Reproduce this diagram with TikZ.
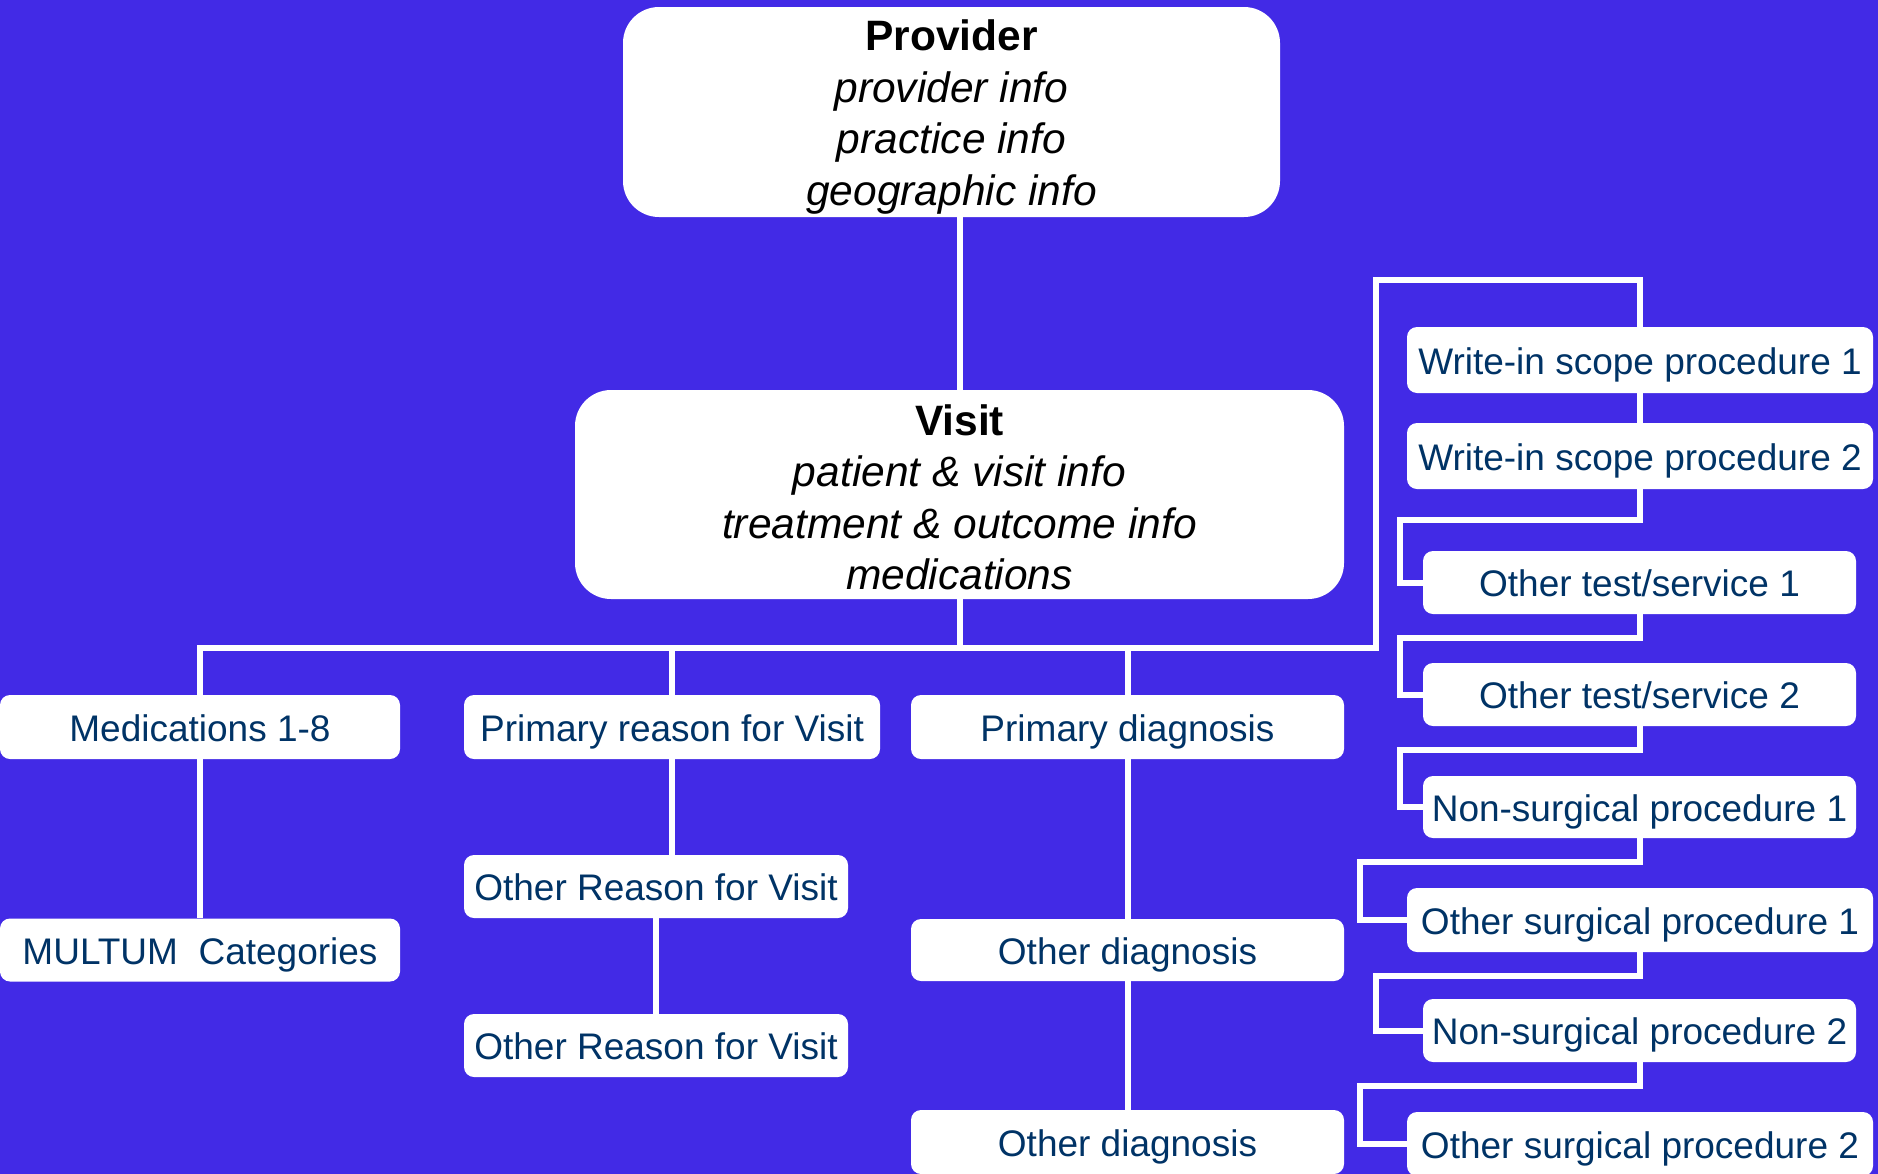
\documentclass[tikz,border=0pt]{standalone}
\usepackage{fontspec}
\setmainfont{Liberation Sans}
\definecolor{bg}{RGB}{66,42,230}
\definecolor{navy}{RGB}{0,51,102}
\begin{document}
\begin{tikzpicture}[x=1pt,y=-1pt,
  conn/.style={draw=white,line width=6pt},
  bigbox/.style={fill=white,rounded corners=36pt,inner sep=0pt,align=center,text=black,
    font=\fontsize{42.5}{51.5}\selectfont},
  leaf/.style={fill=white,rounded corners=10pt,inner sep=0pt,text=navy,
    text height=28pt,text depth=0pt,
    font=\fontsize{37}{40}\selectfont}]
\useasboundingbox (0,0) rectangle (1878,1173);
\clip (0,0) rectangle (1878,1173);
\fill[bg] (-2,-2) rectangle (1880,1175);

% big boxes
\node[bigbox,minimum width=657pt,minimum height=210pt] (prov) at (951.5,112)
  {\rule{0pt}{41pt}\textbf{Provider}\\ \textit{provider info}\\ \textit{practice info}\\ \textit{geographic info}};
\node[bigbox,minimum width=769pt,minimum height=209pt] (visit) at (959.5,494.5)
  {\rule{0pt}{36pt}\textbf{Visit}\\ \textit{patient \& visit info}\\ \textit{treatment \& outcome info}\\ \textit{medications}};

% left columns
\node[leaf,minimum width=400pt,minimum height=64pt] (med) at (200,727) {Medications 1-8};
\node[leaf,minimum width=400pt,minimum height=63pt] (multum) at (200,950) {MULTUM\ \ Categories};
\node[leaf,minimum width=416pt,minimum height=64pt] (prim) at (672,727) {Primary reason for Visit};
\node[leaf,minimum width=384pt,minimum height=63pt] (or1) at (656,886.5) {Other Reason for Visit};
\node[leaf,minimum width=384pt,minimum height=63pt] (or2) at (656,1045.5) {Other Reason for Visit};
\node[leaf,minimum width=433pt,minimum height=64pt] (pd) at (1127.5,727) {Primary diagnosis};
\node[leaf,minimum width=433pt,minimum height=62pt] (od1) at (1127.5,950) {Other diagnosis};
\node[leaf,minimum width=433pt,minimum height=64pt] (od2) at (1127.5,1142) {Other diagnosis};

% right column
\node[leaf,minimum width=466pt,minimum height=66pt] (w1) at (1640,360) {Write-in scope procedure 1};
\node[leaf,minimum width=466pt,minimum height=66pt] (w2) at (1640,456) {Write-in scope procedure 2};
\node[leaf,minimum width=433pt,minimum height=63pt] (t1) at (1639.5,582.5) {Other test/service 1};
\node[leaf,minimum width=433pt,minimum height=63pt] (t2) at (1639.5,694.5) {Other test/service 2};
\node[leaf,minimum width=433pt,minimum height=62pt] (ns1) at (1639.5,807) {Non-surgical procedure 1};
\node[leaf,minimum width=466pt,minimum height=64pt] (os1) at (1640,920) {Other surgical procedure 1};
\node[leaf,minimum width=433pt,minimum height=63pt] (ns2) at (1639.5,1030.5) {Non-surgical procedure 2};
\node[leaf,minimum width=466pt,minimum height=64pt] (os2) at (1640,1144) {Other surgical procedure 2};

% helper coordinates
\coordinate (busY) at (0,648);
\coordinate (topR) at (1376,280);
\coordinate (jA) at (1400,520);
\coordinate (jB) at (1400,638);
\coordinate (jC) at (1400,750);
\coordinate (jD) at (1360,862);
\coordinate (jE) at (1376,976);
\coordinate (jF) at (1360,1086);

% connectors
\draw[conn] (visit.north |- prov.south) -- (visit.north);
\draw[conn] (visit.south) -- (visit.south |- busY);
\draw[conn] (med.north) -- (med.north |- busY) -- (busY -| topR) -- (topR) -- (topR -| w1.north) -- (w1.north);
\draw[conn] (prim.north) -- (prim.north |- busY);
\draw[conn] (pd.north) -- (pd.north |- busY);
\draw[conn] (med.south) -- (multum.north);
\draw[conn] (prim.south) -- (prim.south |- or1.north);
\draw[conn] (or1.south) -- (or2.north);
\draw[conn] (pd.south) -- (od1.north);
\draw[conn] (od1.south) -- (od2.north);
\draw[conn] (w1.south) -- (w2.north);
\draw[conn] (w2.south) |- (jA) |- (t1.west);
\draw[conn] (t1.south) |- (jB) |- (t2.west);
\draw[conn] (t2.south) |- (jC) |- (ns1.west);
\draw[conn] (ns1.south) |- (jD) |- (os1.west);
\draw[conn] (os1.south) |- (jE) |- (ns2.west);
\draw[conn] (ns2.south) |- (jF) |- (os2.west);
\end{tikzpicture}
\end{document}
